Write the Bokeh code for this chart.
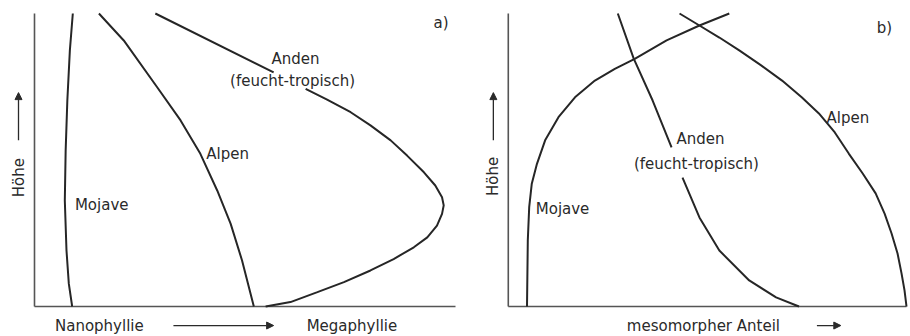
from bokeh.plotting import figure
from bokeh.models import Range1d, Label, Arrow, NormalHead
from bokeh.layouts import row
from bokeh.embed import file_html
from bokeh.resources import INLINE

nan = float("nan")

# ---- Panel a: leaf size (Nanophyllie -> Megaphyllie) vs. height (0-100) ----
a_mojave_x = [9.1, 8.4, 7.8, 7.4, 7.2, 7.6, 8.15, 8.95]
a_mojave_y = [100, 87.4, 70.3, 53.2, 36.2, 19.1, 7.8, 0]

a_alpen_x = [15.3, 21.2, 29.1, 34.7, 39.4, 43.4, 46.6, 49.3, 52.1]
a_alpen_y = [100, 90.8, 74.9, 63.5, 52.1, 39.6, 28.2, 15.7, 0]

a_anden_x = [28.7, 56.8, nan, 64.4, 69.5, 75.1, 79.8, 84.6, 88.5, 92.5, 95.2, 96.8, 97.2,
             96.8, 95.6, 93.3, 90.1, 85.3, 79.8, 73.5, 67.2, 60.8, 54.9]
a_anden_y = [100, 79.9, nan, 74.3, 70.6, 66.3, 61.8, 56.7, 51.5, 45.8, 41.3, 37.3, 34.5,
             31.6, 27.6, 23.6, 20.2, 16.2, 12.3, 8.3, 4.9, 1.5, 0]

# ---- Panel b: mesomorphic share (0-100) vs. height (0-100) ----
b_mojave_x = [4.7, 4.9, 5.25, 5.9, 7.2, 9.25, 12.6, 16.75, 21.75, 26.75, 31.75, 39.75, 48.0, 55.5]
b_mojave_y = [0, 22.5, 33.9, 41.9, 48.7, 56.7, 64.6, 71.4, 77.1, 81.1, 84.5, 90.8, 95.9, 100]

b_anden_x = [27.5, 31.5, 36.25, 41.0, nan, 43.75, 48.0, 53.0, 60.5, 67.25, 73.0]
b_anden_y = [100, 84.6, 70.3, 54.3, nan, 44.0, 30.4, 19.1, 8.9, 3.1, 0]

b_alpen_x = [43.0, 48.0, 53.0, 58.0, 63.5, 68.75, 73.75, 78.0, 82.0, 85.5, 89.0, 92.25, 94.5,
             96.25, 97.75, 98.75, 99.5, 100]
b_alpen_y = [100, 95.9, 91.8, 87.4, 82.3, 77.1, 71.3, 65.9, 59.4, 52.2, 45.4, 38.6, 31.7,
             24.9, 18.1, 11.3, 5.5, 0]

LINE = "#262626"
AXIS = "#555555"
TEXT = "#2a2a2a"
FONT = "DejaVu Sans"
FS = "15px"
H = 334


def make_fig(width, xr, yr):
    p = figure(width=width, height=H, x_range=Range1d(*xr), y_range=Range1d(*yr),
               output_backend="svg", toolbar_location=None,
               min_border=0, x_axis_location=None, y_axis_location=None)
    p.outline_line_color = None
    p.grid.visible = False
    # axis lines (height axis and x axis) drawn from the origin
    p.segment(x0=[0, 0], y0=[0, 0], x1=[0, 100], y1=[100, 0], line_color=AXIS, line_width=1.6)
    return p


def lab(p, x, y, t, align="left", angle=0.0):
    p.add_layout(Label(x=x, y=y, text=t, text_font=FONT, text_font_size=FS,
                       text_color=TEXT, text_align=align, text_baseline="middle",
                       angle=angle))


def arrow(p, x0, y0, x1, y1):
    p.add_layout(Arrow(end=NormalHead(size=7, fill_color=TEXT, line_color=TEXT),
                       x_start=x0, y_start=y0, x_end=x1, y_end=y1,
                       line_color=TEXT, line_width=1.3))


# panel a: frame pixel 34 -> x=0, 421 px per 100; pixel 306 -> y=0, 293 px per 100
pa = make_fig(460, (-34 / 4.21, 426 / 4.21), ((306 - H) / 2.93, 306 / 2.93))
for xs, ys in ((a_mojave_x, a_mojave_y), (a_alpen_x, a_alpen_y), (a_anden_x, a_anden_y)):
    pa.line(xs, ys, line_color=LINE, line_width=2.0)
lab(pa, 94.8, 96.6, "a)")
lab(pa, 9.6, 34.8, "Mojave")
lab(pa, 40.8, 52.2, "Alpen")
lab(pa, 62.0, 84.6, "Anden", align="center")
lab(pa, 61.3, 77.1, "(feucht-tropisch)", align="center")
lab(pa, 15.4, -6.5, "Nanophyllie", align="center")
lab(pa, 75.4, -6.5, "Megaphyllie", align="center")
arrow(pa, 33.0, -6.5, 56.8, -6.5)
lab(pa, -3.8, 44.0, "Höhe", align="center", angle=1.5708)
arrow(pa, -3.8, 56.7, -3.8, 73.0)

# panel b: 448 px wide, x from -12 to 100.5
pb = make_fig(448, (-12.0, 100.5), ((306 - H) / 2.93, 306 / 2.93))
for xs, ys in ((b_mojave_x, b_mojave_y), (b_anden_x, b_anden_y), (b_alpen_x, b_alpen_y)):
    pb.line(xs, ys, line_color=LINE, line_width=2.0)
lab(pb, 92.5, 95.2, "b)")
lab(pb, 6.9, 33.4, "Mojave")
lab(pb, 79.9, 64.5, "Alpen")
lab(pb, 48.25, 57.3, "Anden", align="center")
lab(pb, 47.25, 48.5, "(feucht-tropisch)", align="center")
lab(pb, 49.0, -6.5, "mesomorpher Anteil", align="center")
arrow(pb, 77.5, -6.5, 83.5, -6.5)
lab(pb, -3.75, 44.4, "Höhe", align="center", angle=1.5708)
arrow(pb, -3.75, 56.7, -3.75, 73.0)

layout = row(pa, pb)
open("out.html", "w").write(file_html(layout, INLINE))
